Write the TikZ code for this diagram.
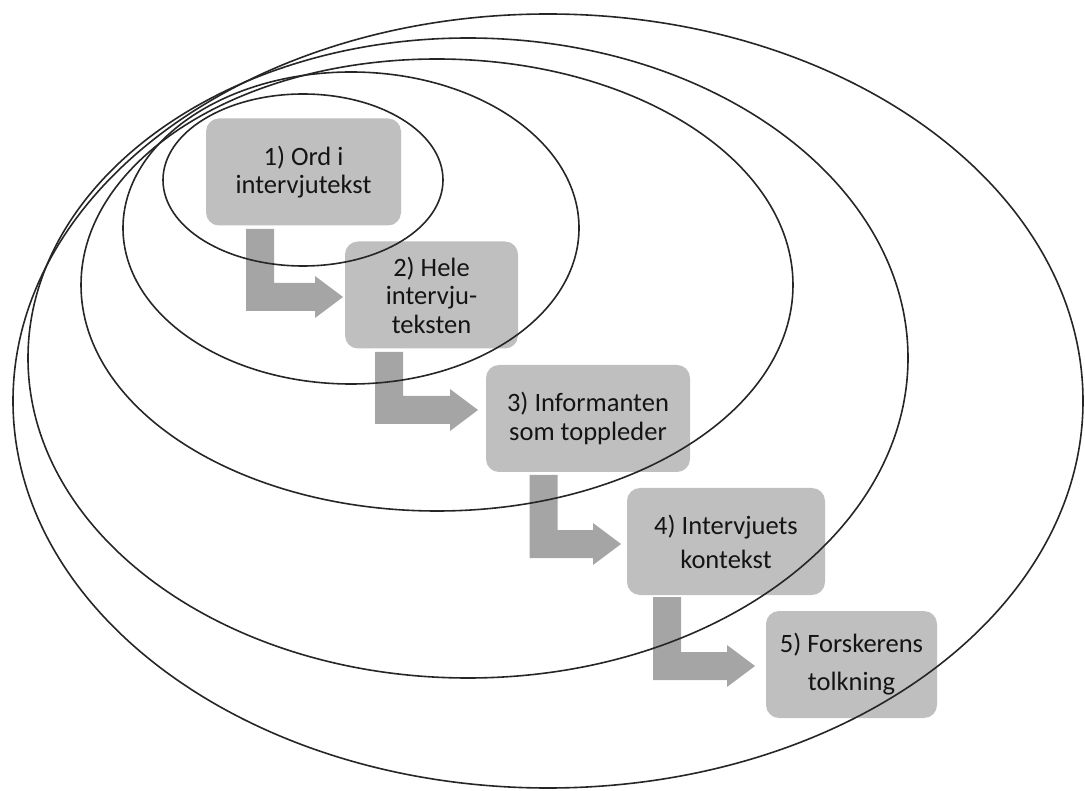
\documentclass[tikz,border=0pt]{standalone}
\usepackage{fontspec}
\setmainfont{Carlito}
\usetikzlibrary{calc}
\definecolor{boxgray}{HTML}{BFBFBF}
\definecolor{arrowgray}{HTML}{A5A5A5}
\definecolor{linecol}{HTML}{262626}
\definecolor{textcol}{HTML}{141414}
\tikzset{
  stepbox/.style={fill=boxgray, draw=none, rounded corners=13pt, align=center,
    inner sep=0pt, minimum height=107pt, text=textcol, font=\fontsize{26.5}{28.5}\selectfont},
  ring/.style={draw=linecol, line width=1.6pt},
  arrowfill/.style={fill=arrowgray},
}
\newcommand\bentarrow[2]{%
  \fill[arrowfill] let \p1=(#1), \p2=(#2) in
    (\x1-14pt,\y1) -- (\x1+14pt,\y1) -- (\x1+14pt,\y2+14pt) -- (\x2-28pt,\y2+14pt)
    -- (\x2-28pt,\y2+21pt) -- (\x2,\y2) -- (\x2-28pt,\y2-21pt) -- (\x2-28pt,\y2-14pt)
    -- (\x1-14pt,\y2-14pt) -- cycle;}
\begin{document}
\begin{tikzpicture}[x=1pt,y=-1pt]
\useasboundingbox (0,0) rectangle (1085,791);
% boxes
\node[stepbox, minimum width=195pt] (b1) at (303.5,172) {1) Ord i\\intervjutekst};
\node[stepbox, minimum width=173pt] (b2) at (431.5,295) {2) Hele\\intervju-\\teksten};
\node[stepbox, minimum width=204pt] (b3) at (588,418.5) {3) Informanten\\som toppleder};
\node[stepbox, minimum width=198pt, font=\fontsize{26.5}{34}\selectfont] (b4) at (726,541.5) {4) Intervjuets\\kontekst};
\node[stepbox, minimum width=171pt, font=\fontsize{26.5}{38}\selectfont] (b5) at (851.5,664.5) {5) Forskerens\\tolkning};
% arrows
\coordinate (a1s) at (260,229); \coordinate (a1e) at (343,297);
\coordinate (a2s) at (389,352); \coordinate (a2e) at (478,410);
\coordinate (a3s) at (543.5,475); \coordinate (a3e) at (621,544);
\coordinate (a4s) at (667,597); \coordinate (a4e) at (755,666);
\bentarrow{a1s}{a1e}
\bentarrow{a2s}{a2e}
\bentarrow{a3s}{a3e}
\bentarrow{a4s}{a4e}
% rings
\draw[ring] (303,180) ellipse [x radius=140, y radius=86];
\draw[ring] (351,228) ellipse [x radius=228, y radius=156];
\draw[ring] (437,285) ellipse [x radius=356, y radius=226];
\draw[ring] (468,358) ellipse [x radius=440, y radius=320];
\draw[ring] (548,401) ellipse [x radius=535, y radius=387];
\end{tikzpicture}
\end{document}
